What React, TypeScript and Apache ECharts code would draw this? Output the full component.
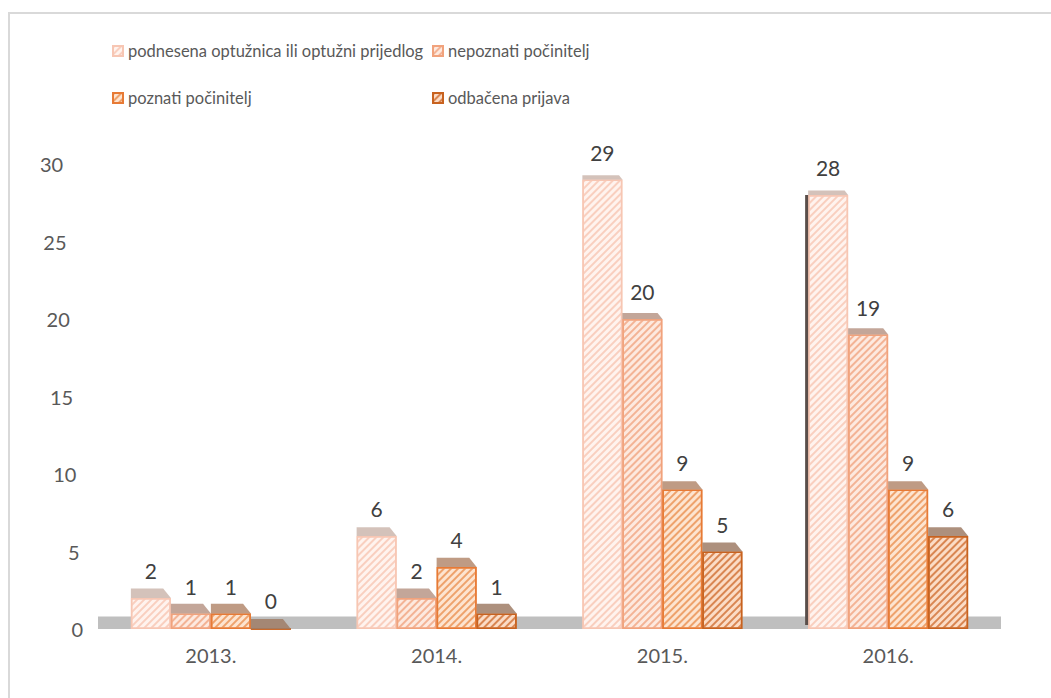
import React, { useEffect, useRef } from "react";
import * as echarts from "echarts";

const categories = ["2013.", "2014.", "2015.", "2016."];
const seriesNames = [
  "podnesena optužnica ili optužni prijedlog",
  "nepoznati počinitelj",
  "poznati počinitelj",
  "odbačena prijava",
];
const podnesena = [2, 6, 29, 28];
const nepoznati = [1, 2, 20, 19];
const poznati = [1, 4, 9, 9];
const odbacena = [0, 1, 5, 6];
const yTickValues = [0, 5, 10, 15, 20, 25, 30];

const FONT = "Lato, 'Open Sans', sans-serif";
const fills = ["#fff3ee", "#fde9df", "#fde4d0", "#fbdcc6"];
const stripes = ["#f9cfbf", "#f3b395", "#eea26c", "#d98652"];
const borders = ["#f7c6b3", "#f1a27c", "#e77a35", "#c8621f"];
const caps = ["#cdb7ae", "#b99787", "#b48a6e", "#9f7c66"];
const BAR_W = 40;

export default function App() {
  const ref = useRef<HTMLDivElement>(null);
  useEffect(() => {
    if (!ref.current) return;
    const chart = echarts.init(ref.current, undefined, { renderer: "svg" });
    const all = [podnesena, nepoznati, poznati, odbacena];
    const capData: number[][] = [];
    all.forEach((arr, s) => arr.forEach((v, c) => capData.push([c, v, s])));

    const barSeries = all.map((arr, s) => ({
      name: seriesNames[s],
      type: "bar",
      data: arr,
      barWidth: BAR_W,
      barGap: "0%",
      z: 3,
      itemStyle: {
        color: fills[s],
        borderColor: borders[s],
        borderWidth: 1.5,
        decal: {
          symbol: "rect",
          symbolSize: 1,
          color: stripes[s],
          dashArrayX: [1, 0],
          dashArrayY: [2, 3],
          rotation: -Math.PI / 4,
        },
      },
      label: {
        show: true,
        position: "top",
        distance: 17,
        color: "#404040",
        fontSize: 21,
        fontFamily: FONT,
      },
      ...(s === 0
        ? {
            markArea: {
              silent: true,
              z: 1,
              itemStyle: { color: "#bfbfbf" },
              data: [[{ yAxis: 0 }, { yAxis: 0.8 }]],
            },
          }
        : {}),
    }));

    const legendText = { color: "#595959", fontSize: 16.5, fontFamily: FONT, lineHeight: 20 };
    const yMin = yTickValues[0];
    const yMax = yTickValues[yTickValues.length - 1];
    const yInterval = yTickValues[1] - yTickValues[0];

    const frame = {
      type: "rect",
      shape: { x: 9, y: 13, width: 1200, height: 900 },
      style: { fill: "none", stroke: "#d9d9d9", lineWidth: 2 },
      silent: true,
    };

    chart.setOption({
      animation: false,
      backgroundColor: "#ffffff",
      graphic: [frame],
      legend: [
        {
          data: [seriesNames[0], seriesNames[2]],
          orient: "vertical",
          left: 112,
          top: 41,
          itemWidth: 10,
          itemHeight: 10,
          itemGap: 27,
          padding: 0,
          icon: "rect",
          textStyle: legendText,
        },
        {
          data: [seriesNames[1], seriesNames[3]],
          orient: "vertical",
          left: 432,
          top: 41,
          itemWidth: 10,
          itemHeight: 10,
          itemGap: 27,
          padding: 0,
          icon: "rect",
          textStyle: legendText,
        },
      ],
      grid: { left: 98, right: 50, top: 164, bottom: 69, containLabel: false },
      xAxis: {
        type: "category",
        data: categories,
        axisLine: { show: false },
        axisTick: { show: false },
        axisLabel: { color: "#595959", fontSize: 20, fontFamily: FONT, margin: 16 },
      },
      yAxis: {
        type: "value",
        min: yMin,
        max: yMax,
        interval: yInterval,
        axisLine: { show: false },
        axisTick: { show: false },
        splitLine: { show: false },
        axisLabel: { show: false },
      },
      series: [
        ...barSeries,
        {
          type: "custom",
          silent: true,
          z: 4,
          data: capData,
          renderItem: (params: any, api: any) => {
            const c = api.value(0);
            const v = api.value(1);
            const s = api.value(2);
            const p = api.coord([c, v]);
            const base = api.coord([c, 0]);
            const cx = p[0] + (s - 1.5) * BAR_W;
            const x0 = cx - BAR_W / 2;
            const x1 = cx + BAR_W / 2;
            const y = p[1];
            const h = 10 - (6 * v) / 30;
            const children: any[] = [
              {
                type: "polygon",
                shape: {
                  points: [
                    [x0, y],
                    [x1, y],
                    [x1 - h * 0.8, y - h],
                    [x0, y - h],
                  ],
                },
                style: { fill: caps[s], opacity: 0.85 },
              },
            ];
            if (s === 0 && c === 3) {
              children.push({
                type: "rect",
                shape: { x: x0 - 3, y: y, width: 3, height: base[1] - y - 4 },
                style: { fill: "#5a4e4a" },
              });
            }
            return { type: "group", children };
          },
        },
      ],
    });

    // value-axis tick labels, placed through the axis scale with the
    // slight perspective drift of the original 3D chart
    const tickTexts = yTickValues.map((v, i) => {
      const y = chart.convertToPixel({ yAxisIndex: 0 }, v) as number;
      return {
        type: "text",
        silent: true,
        x: 83 - i * 3.3,
        y: y,
        style: {
          text: String(v),
          fill: "#595959",
          font: `20px ${FONT}`,
          align: "right",
          verticalAlign: "middle",
        },
      };
    });
    chart.setOption({ graphic: [frame, ...tickTexts] }, { replaceMerge: ["graphic"] });

    return () => chart.dispose();
  }, []);
  return (
    <div
      ref={ref}
      style={{ position: "fixed", left: 0, top: 0, width: 1051, height: 698, background: "#fff" }}
    />
  );
}
